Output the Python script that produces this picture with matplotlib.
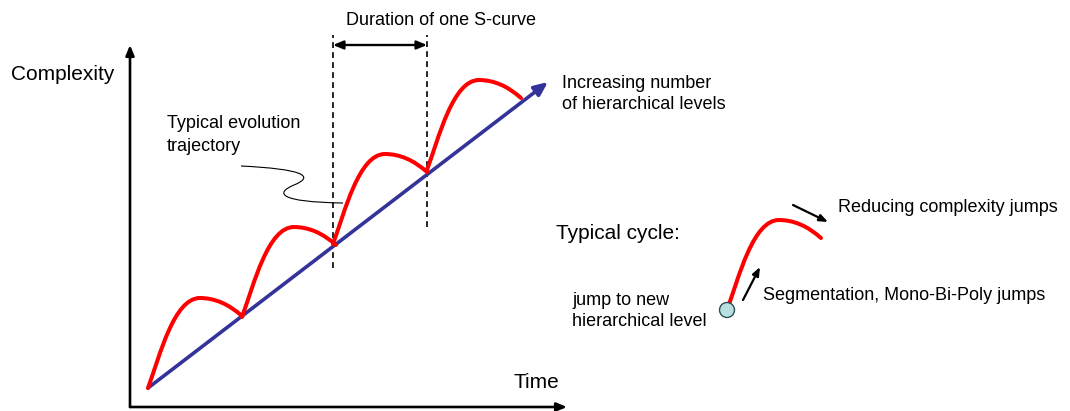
import matplotlib.pyplot as plt
from matplotlib.path import Path
from matplotlib.patches import PathPatch, Circle

plt.rcParams['font.family'] = ['Liberation Sans', 'DejaVu Sans']

# Diagram data (time units, complexity units; origin at the axes corner)
cycle_start_t = [18, 112, 203, 297]
cycle_start_c = [19, 90, 163, 237]
# one S-curve cycle, relative to its start: rise controls, peak, fall control, end
rise_ctrl1 = (12, 33)
rise_ctrl2 = (26, 90)
peak = (52, 90)
fall_ctrl = (74, 90)
cycle_end = (94, 72)

trend_start = (18, 19)
trend_tip = (418, 325)

dashed_t = [203, 297]
dashed_bottom = [139, 180]
dashed_top = 372
duration_c = 362

example_start = (597, 97)
leader_pts = [(111, 241), (172, 238), (186, 231), (164, 222),
              (145, 214), (148, 205), (213, 204)]

red = '#ff0000'
blue = '#333399'

fig = plt.figure(figsize=(10.7, 4.11), dpi=100)
ax = fig.add_axes([0, 0, 1, 1])
ax.set_xlim(-130, 940)
ax.set_ylim(-4, 407)
ax.axis('off')


def cycle_path(t0, c0):
    def p(d):
        return (t0 + d[0], c0 + d[1])
    verts = [(t0, c0), p(rise_ctrl1), p(rise_ctrl2), p(peak), p(fall_ctrl), p(cycle_end)]
    codes = [Path.MOVETO, Path.CURVE4, Path.CURVE4, Path.CURVE4, Path.CURVE3, Path.CURVE3]
    return Path(verts, codes)


# axes arrows
ax.annotate('', xy=(0, 362), xytext=(0, 0),
            arrowprops=dict(arrowstyle='-|>,head_length=0.6,head_width=0.25', color='black', lw=1.9,
                            shrinkA=0, shrinkB=0))
ax.annotate('', xy=(437, 0), xytext=(0, 0),
            arrowprops=dict(arrowstyle='-|>,head_length=0.6,head_width=0.25', color='black', lw=1.9,
                            shrinkA=0, shrinkB=0))

# trend arrow (hierarchical levels)
ax.annotate('', xy=trend_tip, xytext=trend_start,
            arrowprops=dict(arrowstyle='-|>,head_length=0.8,head_width=0.35', color=blue, lw=2.6,
                            shrinkA=0, shrinkB=0), zorder=2)

# red S-curves
for t0, c0 in zip(cycle_start_t, cycle_start_c):
    ax.add_patch(PathPatch(cycle_path(t0, c0), fc='none', ec=red, lw=2.9,
                           capstyle='round', joinstyle='round', zorder=3))

# dashed duration markers
for t, b in zip(dashed_t, dashed_bottom):
    ax.plot([t, t], [b, dashed_top], color='black', lw=1.2, ls=(0, (3.5, 2.5)), zorder=1)
ax.annotate('', xy=(dashed_t[1], duration_c), xytext=(dashed_t[0], duration_c),
            arrowprops=dict(arrowstyle='<|-|>,head_length=0.6,head_width=0.25', color='black', lw=1.7,
                            shrinkA=0, shrinkB=0))

# leader line for "Typical evolution trajectory"
lead_codes = [Path.MOVETO] + [Path.CURVE4] * 6
ax.add_patch(PathPatch(Path(leader_pts, lead_codes), fc='none', ec='black', lw=0.8))

# typical cycle example
ax.add_patch(PathPatch(cycle_path(*example_start), fc='none', ec=red, lw=2.9,
                       capstyle='round', zorder=3))
ax.add_patch(Circle(example_start, 7.5, fc='#b8e0e0', ec='#2f4f4f', lw=1.0, zorder=4))
ax.annotate('', xy=(698, 185), xytext=(663, 202),
            arrowprops=dict(arrowstyle='-|>,head_length=0.5,head_width=0.2', color='black', lw=1.6,
                            shrinkA=0, shrinkB=0))
ax.annotate('', xy=(630, 140), xytext=(613, 107),
            arrowprops=dict(arrowstyle='-|>,head_length=0.5,head_width=0.2', color='black', lw=1.6,
                            shrinkA=0, shrinkB=0))

# labels
ax.text(-67, 332, 'Complexity', fontsize=15, ha='center', va='center')
ax.text(383, 25, 'Time', fontsize=15, ha='left', va='center')
ax.text(216, 386, 'Duration of one S-curve', fontsize=13, ha='left', va='center')
ax.text(432, 313, 'Increasing number\nof hierarchical levels', fontsize=13,
        ha='left', va='center', linespacing=1.35)
ax.text(37, 272, 'Typical evolution\ntrajectory', fontsize=13, ha='left', va='center',
        linespacing=1.4)
ax.text(426, 174, 'Typical cycle:', fontsize=15, ha='left', va='center')
ax.text(708, 200, 'Reducing complexity jumps', fontsize=13, ha='left', va='center')
ax.text(633, 111, 'Segmentation, Mono-Bi-Poly jumps', fontsize=13, ha='left', va='center')
ax.text(442, 96, 'jump to new\nhierarchical level', fontsize=13, ha='left', va='center',
        linespacing=1.35)

fig.savefig('out.png', dpi=100)
